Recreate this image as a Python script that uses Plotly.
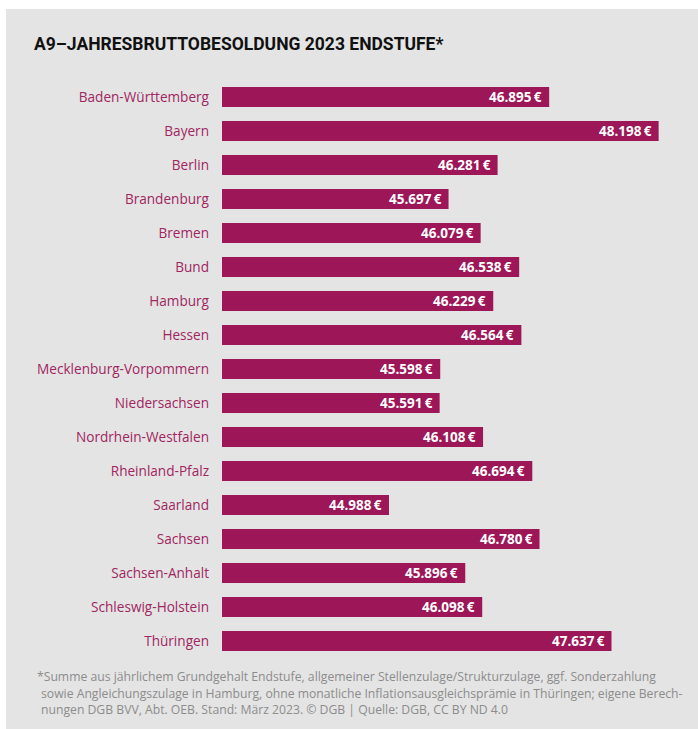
import plotly.graph_objects as go

# ---- data ----
laender = ["Baden-Württemberg", "Bayern", "Berlin", "Brandenburg", "Bremen", "Bund",
           "Hamburg", "Hessen", "Mecklenburg-Vorpommern", "Niedersachsen",
           "Nordrhein-Westfalen", "Rheinland-Pfalz", "Saarland", "Sachsen",
           "Sachsen-Anhalt", "Schleswig-Holstein", "Thüringen"]
besoldung = [46895, 48198, 46281, 45697, 46079, 46538, 46229, 46564, 45598,
             45591, 46108, 46694, 44988, 46780, 45896, 46098, 47637]

title_text = "A9–JAHRESBRUTTOBESOLDUNG 2023 ENDSTUFE*"
footnote_lines = [
    "*Summe aus jährlichem Grundgehalt Endstufe, allgemeiner Stellenzulage/Strukturzulage, ggf. Sonderzahlung",
    "sowie Angleichungszulage in Hamburg, ohne monatliche Inflationsausgleichsprämie in Thüringen; eigene Berech-",
    "nungen DGB BVV, Abt. OEB. Stand: März 2023. © DGB | Quelle: DGB, CC BY ND 4.0",
]

def fmt(v):
    return f"{v:,}".replace(",", ".") + "\u2009€"

labels = [fmt(v) for v in besoldung]

W, H = 698, 729
ML, MR, MT, MB = 222, 10, 80, 71
PW, PH = W - ML - MR, H - MT - MB

def px(x):
    return (x - ML) / PW

def py(y):
    return (H - MB - y) / PH

BAR = "#9c1658"
LABEL = "#a0265f"
BG = "#e4e4e4"

fig = go.Figure(go.Bar(
    y=laender, x=besoldung, orientation="h",
    marker=dict(color=BAR, line=dict(width=0)),
    hoverinfo="x+y",
))

fig.update_layout(
    width=W, height=H,
    margin=dict(l=ML, r=MR, t=MT, b=MB),
    paper_bgcolor="white", plot_bgcolor="rgba(0,0,0,0)",
    bargap=0.41, showlegend=False,
    xaxis=dict(range=[43000, 43000 + PW / 0.084], visible=False, fixedrange=True),
    yaxis=dict(autorange="reversed", showgrid=False, showline=False, zeroline=False,
               ticks="", ticklabelstandoff=12, fixedrange=True,
               tickfont=dict(family="Open Sans", size=13.6, color=LABEL)),
    shapes=[dict(type="rect", xref="paper", yref="paper", layer="below",
                 x0=px(6), x1=px(W + 10), y0=py(H + 10), y1=py(9),
                 fillcolor=BG, line=dict(width=0))],
)

annotations = []
# value labels at the end of each bar (data coordinates)
for cat, v, lab in zip(laender, besoldung, labels):
    annotations.append(dict(text=f"<b>{lab}</b>", x=v, y=cat, xref="x", yref="y",
                            xanchor="right", yanchor="middle", xshift=-5,
                            showarrow=False,
                            font=dict(family="Open Sans", size=13.5, color="white")))

annotations.append(dict(text=f"<b>{title_text}</b>", xref="paper", yref="paper",
                        x=px(32), y=py(44), xanchor="left", yanchor="middle",
                        showarrow=False,
                        font=dict(family="Roboto", size=17.5, color="#111111")))
for i, (line, ypos) in enumerate(zip(footnote_lines, [676, 693, 709])):
    annotations.append(dict(text=line, xref="paper", yref="paper",
                            x=px(35 if i == 0 else 39), y=py(ypos),
                            xanchor="left", yanchor="middle", showarrow=False,
                            font=dict(family="Open Sans", size=12.2, color="#8c8c8c")))
fig.update_layout(annotations=annotations)

fig.write_html("out.html", config={"displayModeBar": False},
               post_script="document.body.style.margin='0';")
